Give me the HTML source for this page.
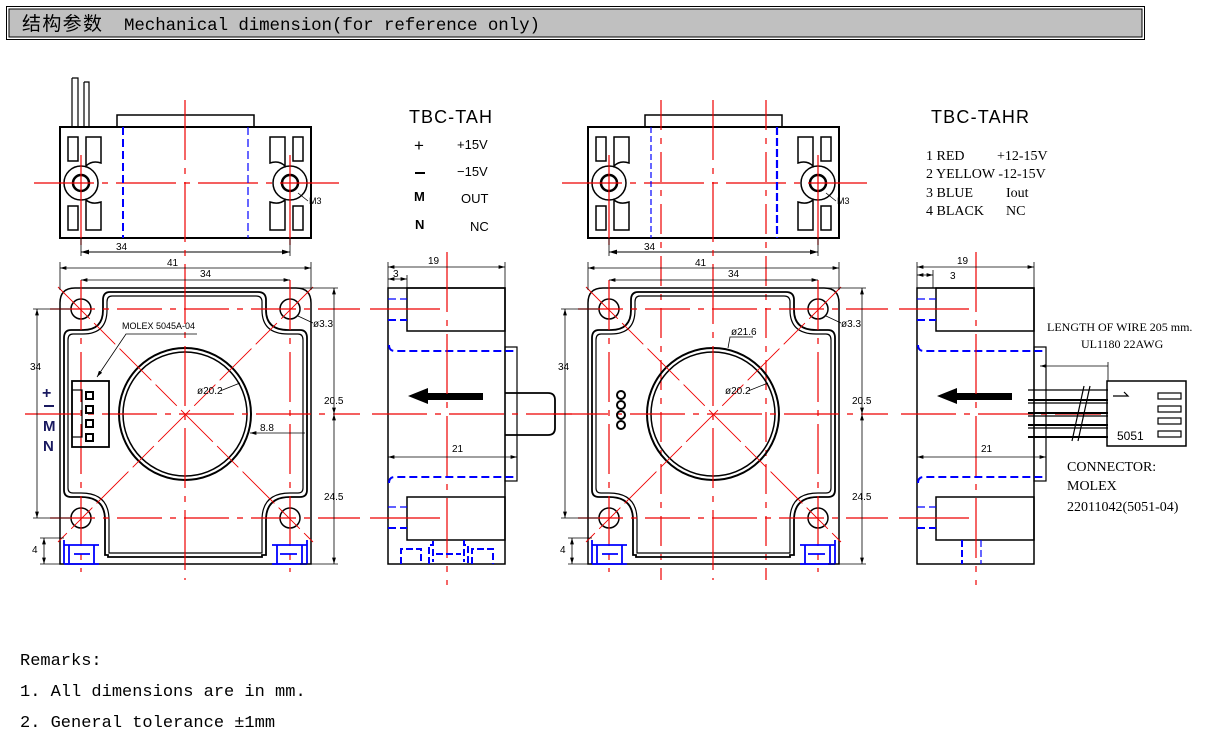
<!DOCTYPE html>
<html><head><meta charset="utf-8">
<style>
html,body{margin:0;padding:0;background:#fff;}
svg{display:block;}
.t{font-family:"Liberation Sans",sans-serif;fill:#000;}
.m{font-family:"Liberation Mono","Noto Sans CJK SC",monospace;fill:#000;}
.s{font-family:"Liberation Serif",serif;fill:#000;}
</style></head><body>
<svg width="1219" height="741" viewBox="0 0 1219 741" xmlns="http://www.w3.org/2000/svg">
<defs>
<marker id="ar" viewBox="0 0 10 6" refX="10" refY="3" markerWidth="8" markerHeight="5" orient="auto-start-reverse"><path d="M0,0 L10,3 L0,6 Z" fill="#000"/></marker>
<g id="top">
  <rect x="60" y="127" width="251" height="111" fill="none" stroke="#000" stroke-width="2"/>
  <rect x="117" y="115" width="137" height="12" fill="none" stroke="#000" stroke-width="1.5"/>
  <g fill="none" stroke="#000" stroke-width="1.5">
    <rect x="68" y="137" width="10" height="24"/><path d="M86,137 H101 V163 Q92,160 86,166 Z"/>
    <rect x="68" y="206" width="10" height="24"/><path d="M86,230 H101 V202 Q92,205 86,200 Z"/>
    <rect x="293" y="137" width="10" height="24"/><path d="M285,137 H270 V163 Q279,160 285,166 Z"/>
    <rect x="293" y="206" width="10" height="24"/><path d="M285,230 H270 V202 Q279,205 285,200 Z"/>
    <circle cx="81" cy="183" r="17"/><circle cx="81" cy="183" r="8" stroke-width="2.5"/>
    <circle cx="290" cy="183" r="17"/><circle cx="290" cy="183" r="8" stroke-width="2.5"/>
  </g>
  <g stroke="#e00" stroke-width="1.2">
    <line x1="34" y1="183" x2="339" y2="183" stroke-dasharray="60,8,6,8"/>
    <line x1="81" y1="155" x2="81" y2="245"/>
    <line x1="290" y1="155" x2="290" y2="245"/>
  </g>
  <line x1="81" y1="252" x2="290" y2="252" stroke="#000" marker-start="url(#ar)" marker-end="url(#ar)"/>
  <line x1="81" y1="238" x2="81" y2="256" stroke="#000" stroke-width="0.8"/>
  <line x1="290" y1="238" x2="290" y2="256" stroke="#000" stroke-width="0.8"/>
  <text x="116" y="250" class="t" font-size="10">34</text>
  <text x="309" y="204" class="t" font-size="9">M3</text>
  <line x1="298" y1="193" x2="308" y2="201" stroke="#000" stroke-width="0.8"/>
</g>
<g id="front">
  <path d="M60,303 Q60,288 75,288 H296 Q311,288 311,303 V564 H60 Z" fill="none" stroke="#000" stroke-width="1.5"/>
  <path d="M110,292 H258 Q266,292 266,300 V310 Q266,330 288,330 H300 Q307,330 307,338 V490 Q307,497 300,497 H290 Q266,497 266,520 V555 H262 V557 H108 V555 H105 V520 Q105,497 81,497 H71 Q64,497 64,490 V338 Q64,330 71,330 H83 Q103,330 103,310 V300 Q103,292 110,292 Z" fill="none" stroke="#000" stroke-width="1.8"/>
  <path d="M112,296 H256 Q262,296 262,302 V310 Q262,334 288,334 H298 Q303,334 303,340 V488 Q303,493 298,493 H290 Q262,493 262,520 V553 H109 V520 Q109,493 81,493 H73 Q68,493 68,488 V340 Q68,334 73,334 H83 Q107,334 107,310 V302 Q107,296 112,296 Z" fill="none" stroke="#000" stroke-width="1.2"/>
  <g fill="none" stroke="#000" stroke-width="1.5">
    <circle cx="81" cy="309" r="10"/><circle cx="290" cy="309" r="10"/>
    <circle cx="81" cy="518" r="10"/><circle cx="290" cy="518" r="10"/>
    <circle cx="185" cy="414" r="66" stroke-width="2"/><circle cx="185" cy="414" r="62" stroke-width="1.5"/>
  </g>
  <g stroke="#e00" stroke-width="1.2" fill="none">
    <line x1="25" y1="414" x2="360" y2="414" stroke-dasharray="55,8,6,8"/>
    <line x1="50" y1="309" x2="360" y2="309" stroke-dasharray="45,8,6,8"/>
    <line x1="50" y1="518" x2="360" y2="518" stroke-dasharray="45,8,6,8"/>
    <line x1="81" y1="280" x2="81" y2="572" stroke-dasharray="50,8,6,8"/>
    <line x1="290" y1="280" x2="290" y2="572" stroke-dasharray="50,8,6,8"/>
    <line x1="185" y1="100" x2="185" y2="580" stroke-dasharray="60,8,6,8"/>
    <line x1="58" y1="287" x2="313" y2="542" stroke-width="0.9" stroke-dasharray="45,6,30,6"/>
    <line x1="313" y1="287" x2="58" y2="542" stroke-width="0.9" stroke-dasharray="45,6,30,6"/>
  </g>
  <g stroke="#00f" stroke-width="1.8" fill="none">
    <path d="M64,545 H99 M64,564 H99 M69,545 V564 M94,545 V564 M74,554 H90 M64,540 V564"/>
    <path d="M272,545 H307 M272,564 H307 M277,545 V564 M302,545 V564 M280,554 H297 M307,540 V564"/>
  </g>
  <g stroke="#000" stroke-width="0.8" fill="none">
    <line x1="60" y1="268" x2="311" y2="268" marker-start="url(#ar)" marker-end="url(#ar)"/>
    <line x1="81" y1="280" x2="290" y2="280" marker-start="url(#ar)" marker-end="url(#ar)"/>
    <line x1="60" y1="262" x2="60" y2="290"/><line x1="311" y1="262" x2="311" y2="290"/>
    <line x1="37" y1="309" x2="37" y2="518" marker-start="url(#ar)" marker-end="url(#ar)"/>
    <line x1="33" y1="309" x2="70" y2="309"/><line x1="33" y1="518" x2="70" y2="518"/>
    <line x1="334" y1="288" x2="334" y2="414" marker-start="url(#ar)" marker-end="url(#ar)"/>
    <line x1="334" y1="414" x2="334" y2="564" marker-start="url(#ar)" marker-end="url(#ar)"/>
    <line x1="300" y1="288" x2="338" y2="288"/><line x1="300" y1="564" x2="338" y2="564"/>
    <line x1="44" y1="538" x2="44" y2="564" marker-start="url(#ar)" marker-end="url(#ar)"/>
    <line x1="40" y1="538" x2="64" y2="538"/><line x1="40" y1="564" x2="64" y2="564"/>
    <line x1="298" y1="316" x2="313" y2="323"/>
    <line x1="220" y1="391" x2="240" y2="383"/>
  </g>
  <text x="167" y="266" class="t" font-size="10">41</text>
  <text x="200" y="277" class="t" font-size="10">34</text>
  <text x="30" y="370" class="t" font-size="10">34</text>
  <text x="324" y="404" class="t" font-size="10">20.5</text>
  <text x="324" y="500" class="t" font-size="10">24.5</text>
  <text x="32" y="553" class="t" font-size="10">4</text>
  <text x="313" y="327" class="t" font-size="10">ø3.3</text>
  <text x="197" y="394" class="t" font-size="10">ø20.2</text>
</g>
<g id="side">
  <rect x="388" y="288" width="117" height="276" fill="none" stroke="#000" stroke-width="1.5"/>
  <rect x="407" y="288" width="98" height="43" fill="none" stroke="#000" stroke-width="1.5"/>
  <rect x="407" y="497" width="98" height="43" fill="none" stroke="#000" stroke-width="1.5"/>
  <rect x="505" y="347" width="12" height="134" fill="none" stroke="#000" stroke-width="1.2"/>
  <g stroke="#00f" stroke-width="2" fill="none" stroke-dasharray="8,4">
    <line x1="388" y1="299" x2="407" y2="299" stroke-width="1.2"/><line x1="388" y1="320" x2="407" y2="320"/>
    <line x1="388" y1="507" x2="407" y2="507" stroke-width="1.2"/><line x1="388" y1="528" x2="407" y2="528"/>
    <path d="M389,345 Q389,351 395,351 H517"/>
    <path d="M389,483 Q389,477 395,477 H517"/>
  </g>
  <path d="M408,396 L428,388 L428,393 L483,393 L483,400 L428,400 L428,404 Z" fill="#000"/>
  <g stroke="#e00" stroke-width="1.2">
    <line x1="372" y1="414" x2="572" y2="414" stroke-dasharray="55,8,6,8"/>
    <line x1="370" y1="309" x2="440" y2="309"/>
    <line x1="370" y1="518" x2="440" y2="518"/>
    <line x1="447" y1="252" x2="447" y2="585" stroke-dasharray="60,8,6,8"/>
  </g>
  <g stroke="#000" stroke-width="0.8">
    <line x1="388" y1="267" x2="505" y2="267" marker-start="url(#ar)" marker-end="url(#ar)"/>
    <line x1="388" y1="262" x2="388" y2="288"/><line x1="505" y1="262" x2="505" y2="288"/>
    <line x1="388" y1="457" x2="517" y2="457" marker-start="url(#ar)" marker-end="url(#ar)"/>
  </g>
  <text x="428" y="264" class="t" font-size="10">19</text>
  <text x="452" y="452" class="t" font-size="10">21</text>
</g>
</defs>

<rect x="6.5" y="6.5" width="1138" height="33" fill="none" stroke="#000" stroke-width="1"/>
<rect x="9" y="9" width="1133" height="28" fill="#c0c0c0" stroke="#000" stroke-width="1"/>
<text x="22" y="30" font-family="Noto Sans CJK SC, sans-serif" font-size="19" fill="#000" textLength="80">结构参数</text>
<text x="124" y="30" class="m" font-size="17.5" textLength="416">Mechanical dimension(for reference only)</text>

<use href="#top"/>
<path d="M72,78 H78 V127 M72,78 V127 M84,82 H89 V127 M84,82 V127" fill="none" stroke="#000" stroke-width="1.2"/>
<line x1="123" y1="127" x2="123" y2="238" stroke="#00f" stroke-width="2" stroke-dasharray="8,4"/>
<line x1="248" y1="127" x2="248" y2="238" stroke="#00f" stroke-width="1.2" stroke-dasharray="8,4"/>
<use href="#front"/>
<rect x="72" y="381" width="37" height="66" fill="none" stroke="#000" stroke-width="1.8"/>
<rect x="72" y="390" width="10" height="47" fill="none" stroke="#000" stroke-width="1.2"/>
<g fill="none" stroke="#000" stroke-width="2"><rect x="86" y="392" width="7" height="7"/><rect x="86" y="406" width="7" height="7"/><rect x="86" y="420" width="7" height="7"/><rect x="86" y="434" width="7" height="7"/></g>
<text x="122" y="329" class="t" font-size="9">MOLEX 5045A-04</text>
<path d="M197,334 H126 L97,377" fill="none" stroke="#000" stroke-width="0.8" marker-end="url(#ar)"/>
<g font-family="Liberation Sans,sans-serif" font-weight="bold" fill="#1a1a60">
<text x="42" y="398" font-size="16">+</text>
<rect x="44" y="405" width="10" height="2" fill="#1a1a60"/>
<text x="43" y="431" font-size="15">M</text>
<text x="43" y="451" font-size="15">N</text>
</g>
<line x1="250" y1="433" x2="305" y2="433" stroke="#000" stroke-width="0.8" marker-start="url(#ar)"/>
<text x="260" y="431" class="t" font-size="10">8.8</text>
<use href="#side"/>
<path d="M505,393 H548 Q555,393 555,400 V428 Q555,435 548,435 H505" fill="none" stroke="#000" stroke-width="1.8"/>
<line x1="388" y1="279" x2="407" y2="279" stroke="#000" stroke-width="0.8" marker-start="url(#ar)" marker-end="url(#ar)"/>
<line x1="407" y1="275" x2="407" y2="288" stroke="#000" stroke-width="0.8"/>
<text x="393" y="277" class="t" font-size="10">3</text>
<g stroke="#00f" stroke-width="2" fill="none" stroke-dasharray="7,3">
<path d="M401,564 V549 H421 V564"/><path d="M429,564 V545 H433 V540 M464,540 V545 H468 V564"/><path d="M433,549 V562 M464,549 V562 M436,554 H461"/><path d="M472,564 V549 H493 V564"/>
</g>
<text x="409" y="123" class="t" font-size="18" textLength="83">TBC-TAH</text>
<g class="t" font-size="13">
<text x="414" y="151" font-size="17">+</text><text x="457" y="149">+15V</text>
<rect x="415" y="172" width="10" height="2" fill="#000"/><text x="457" y="176">−15V</text>
<text x="414" y="201" font-weight="bold">M</text><text x="461" y="203">OUT</text>
<text x="415" y="229" font-weight="bold">N</text><text x="470" y="231">NC</text>
</g>

<g transform="translate(528,0)"><use href="#top"/></g>
<g stroke="#e00" stroke-width="1.2" stroke-dasharray="30,8,6,8">
<line x1="661" y1="100" x2="661" y2="580"/><line x1="766" y1="100" x2="766" y2="580"/>
</g>
<line x1="651" y1="127" x2="651" y2="238" stroke="#00f" stroke-width="1.2" stroke-dasharray="6,3"/>
<line x1="777" y1="127" x2="777" y2="238" stroke="#00f" stroke-width="2.2" stroke-dasharray="8,3"/>
<g transform="translate(528,0)"><use href="#front"/></g>
<g fill="none" stroke="#000" stroke-width="2"><circle cx="621" cy="395" r="4"/><circle cx="621" cy="405" r="4"/><circle cx="621" cy="415" r="4"/><circle cx="621" cy="425" r="4"/></g>
<text x="731" y="335" class="t" font-size="10">ø21.6</text>
<path d="M753,337 H730 L728,348" fill="none" stroke="#000" stroke-width="0.8"/>
<g transform="translate(529,0)"><use href="#side"/></g>
<line x1="917" y1="275" x2="933" y2="275" stroke="#000" stroke-width="0.8" marker-start="url(#ar)" marker-end="url(#ar)"/>
<line x1="933" y1="270" x2="933" y2="288" stroke="#000" stroke-width="0.8"/>
<text x="950" y="279" class="t" font-size="10">3</text>
<g stroke="#00f" stroke-width="2" fill="none" stroke-dasharray="7,3"><line x1="962" y1="540" x2="962" y2="564"/><line x1="981" y1="540" x2="981" y2="564" stroke-width="1.2"/></g>
<g fill="none" stroke="#000" stroke-width="1.2">
<line x1="1028" y1="390" x2="1108" y2="390"/><line x1="1028" y1="400" x2="1108" y2="400" stroke-width="2"/>
<line x1="1028" y1="403" x2="1108" y2="403"/><line x1="1028" y1="413" x2="1108" y2="413" stroke-width="2"/>
<line x1="1028" y1="416" x2="1108" y2="416"/><line x1="1028" y1="425" x2="1108" y2="425" stroke-width="2"/>
<line x1="1028" y1="428" x2="1108" y2="428"/><line x1="1028" y1="437" x2="1108" y2="437" stroke-width="2"/>
<line x1="1072" y1="441" x2="1084" y2="386"/><line x1="1078" y1="441" x2="1090" y2="386"/>
<rect x="1107" y="381" width="79" height="65" stroke-width="1.5"/>
<rect x="1158" y="393" width="23" height="6"/><rect x="1158" y="406" width="23" height="6"/>
<rect x="1158" y="418" width="23" height="6"/><rect x="1158" y="431" width="23" height="6"/>
<path d="M1113,396 H1128 L1124,392"/>
<line x1="1040" y1="366" x2="1108" y2="366" stroke-width="0.8" marker-start="url(#ar)"/>
<line x1="1108" y1="362" x2="1108" y2="381" stroke-width="0.8"/>
</g>
<text x="1117" y="440" class="t" font-size="12">5051</text>
<text x="1047" y="331" class="s" font-size="12">LENGTH OF WIRE 205 mm.</text>
<text x="1081" y="348" class="s" font-size="12">UL1180 22AWG</text>
<text x="1067" y="471" class="s" font-size="14">CONNECTOR:</text>
<text x="1067" y="490" class="s" font-size="14">MOLEX</text>
<text x="1067" y="511" class="s" font-size="14">22011042(5051-04)</text>
<text x="931" y="123" class="t" font-size="18" textLength="98">TBC-TAHR</text>
<g class="s" font-size="14">
<text x="926" y="160">1 RED</text><text x="997" y="160">+12-15V</text>
<text x="926" y="178">2 YELLOW -12-15V</text>
<text x="926" y="197">3 BLUE</text><text x="1006" y="197">Iout</text>
<text x="926" y="215">4 BLACK</text><text x="1006" y="215">NC</text>
</g>

<g class="m" font-size="17">
<text x="20" y="665">Remarks:</text>
<text x="20" y="696">1. All dimensions are in mm.</text>
<text x="20" y="727">2. General tolerance ±1mm</text>
</g>
</svg>
</body></html>
